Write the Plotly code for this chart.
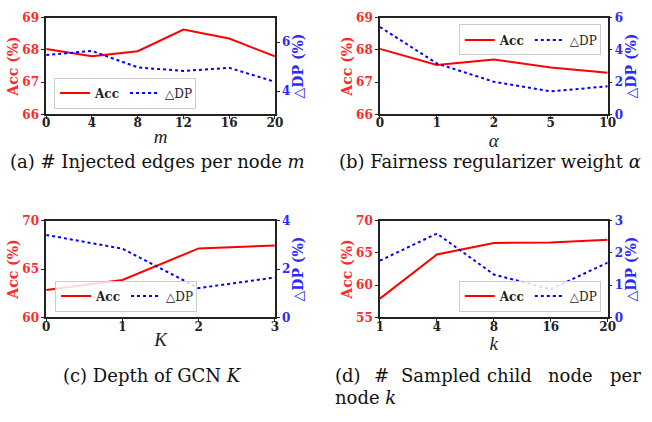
import plotly.graph_objects as go

# ---- data ----
m_vals = [0, 4, 8, 12, 16, 20]
m_acc = [68.03, 67.80, 67.96, 68.63, 68.35, 67.80]
m_dp = [5.47, 5.64, 4.97, 4.82, 4.95, 4.38]

alpha_vals = ["0", "1", "2", "5", "10"]
alpha_acc = [68.03, 67.53, 67.70, 67.45, 67.29]
alpha_dp = [5.42, 3.16, 2.02, 1.42, 1.74]

K_vals = [0, 1, 2, 3]
K_acc = [62.83, 63.87, 67.13, 67.43]
K_dp = [3.41, 2.84, 1.21, 1.65]

k_vals = ["1", "4", "8", "16", "20"]
k_acc = [57.9, 64.75, 66.55, 66.6, 67.05]
k_dp = [1.76, 2.60, 1.33, 0.87, 1.70]

captions = ["(a) # Injected edges per node <i>m</i>",
            "(b) Fairness regularizer weight <i>α</i>",
            "(c) Depth of GCN <i>K</i>"]
caption_d1 = ["(d)", "#", "Sampled", "child", "node", "per"]
caption_d2 = "node <i>k</i>"

W, H = 652, 422
RED = "#ff0000"
BLUE = "#0000ff"
RED_T = "#ff2a2a"
BLUE_T = "#2a2aff"
TICKF = "DejaVu Serif"

def px(x):
    return x / W

def py(y):
    return 1 - y / H

xdom = [[px(43), px(276)], [px(383), px(615)]]
ydom = [[py(111), py(11)], [py(321), py(221)]]

fig = go.Figure()

panels = [
    dict(x=m_vals, acc=m_acc, dp=m_dp, xd=xdom[0], yd=ydom[0], xr=[0, 20], xt=m_vals,
         ar=[66, 69], at=[66, 67, 68, 69], dr=[3.05, 7.0], dt=[4, 6], title="<i>m</i>",
         leg=dict(x=px(51), y=py(105), xanchor="left", yanchor="bottom"), cat=False),
    dict(x=alpha_vals, acc=alpha_acc, dp=alpha_dp, xd=xdom[1], yd=ydom[0], xr=[0, 4], xt=None,
         ar=[66, 69], at=[66, 67, 68, 69], dr=[0, 6], dt=[0, 2, 4, 6], title="<i>α</i>",
         leg=dict(x=px(608), y=py(18), xanchor="right", yanchor="top"), cat=True),
    dict(x=K_vals, acc=K_acc, dp=K_dp, xd=xdom[0], yd=ydom[1], xr=[0, 3], xt=K_vals,
         ar=[60, 70], at=[60, 65, 70], dr=[0, 4], dt=[0, 2, 4], title="<i>K</i>",
         leg=dict(x=px(52), y=py(315), xanchor="left", yanchor="bottom"), cat=False),
    dict(x=k_vals, acc=k_acc, dp=k_dp, xd=xdom[1], yd=ydom[1], xr=[0, 4], xt=None,
         ar=[55, 70], at=[55, 60, 65, 70], dr=[0, 3], dt=[0, 1, 2, 3], title="<i>k</i>",
         leg=dict(x=px(608), y=py(315), xanchor="right", yanchor="bottom"), cat=True),
]

layout = {}
for i, p in enumerate(panels):
    n = i + 1
    xa = "x" if n == 1 else f"x{n}"
    yl_idx = 2 * i + 1
    yr_idx = 2 * i + 2
    yl = "y" if yl_idx == 1 else f"y{yl_idx}"
    yr = f"y{yr_idx}"
    leg = "legend" if n == 1 else f"legend{n}"

    fig.add_trace(go.Scatter(x=p["x"], y=p["acc"], mode="lines", name="<b>Acc</b>",
                             line=dict(color=RED, width=2), xaxis=xa, yaxis=yl, legend=leg))
    fig.add_trace(go.Scatter(x=p["x"], y=p["dp"], mode="lines", name="△DP",
                             line=dict(color=BLUE, width=2, dash="dot"), xaxis=xa, yaxis=yr, legend=leg))

    xkey = "xaxis" if n == 1 else f"xaxis{n}"
    xcfg = dict(domain=p["xd"], anchor=yl, range=p["xr"], showline=True, linecolor="#222",
                linewidth=1.5, mirror=True, ticks="outside", ticklen=3, tickcolor="#222",
                showgrid=False, zeroline=False, ticklabelstandoff=-6,
                tickfont=dict(family=TICKF, size=12, color="#222", weight="bold"),
                title=dict(text=p["title"], font=dict(family="Liberation Serif", size=19, color="#222"),
                           standoff=0))
    if p["cat"]:
        xcfg["type"] = "category"
    else:
        xcfg["tickvals"] = p["xt"]
    layout[xkey] = xcfg

    ylkey = "yaxis" if yl_idx == 1 else f"yaxis{yl_idx}"
    layout[ylkey] = dict(domain=p["yd"], anchor=xa, range=p["ar"], tickvals=p["at"],
                         showline=True, linecolor="#222", linewidth=1.5, ticks="outside",
                         ticklen=3, tickcolor="#222", showgrid=False, zeroline=False,
                         tickfont=dict(family=TICKF, size=12, color=RED_T, weight="bold"),
                         title=dict(text="Acc (%)", font=dict(family=TICKF, size=14, color=RED_T, weight="bold"),
                                    standoff=0))
    yrkey = f"yaxis{yr_idx}"
    layout[yrkey] = dict(domain=p["yd"], anchor=xa, overlaying=yl, side="right", range=p["dr"],
                         tickvals=p["dt"], showline=True, linecolor="#222", linewidth=1.5,
                         ticks="outside", ticklen=3, tickcolor="#222", showgrid=False, zeroline=False,
                         tickfont=dict(family=TICKF, size=12, color=BLUE_T, weight="bold"),
                         title=dict(text="△DP (%)", font=dict(family=TICKF, size=14, color=BLUE_T, weight="bold"),
                                    standoff=3))
    legkey = "legend" if n == 1 else f"legend{n}"
    layout[legkey] = dict(orientation="h", bordercolor="#cccccc", borderwidth=1,
                          bgcolor="rgba(255,255,255,0.85)",
                          font=dict(family=TICKF, size=12, color="#222"),
                          itemwidth=30, entrywidth=25, tracegroupgap=0, **p["leg"])

annos = []
cap_font = dict(family="DejaVu Serif", size=18, color="#111")
annos.append(dict(text=captions[0], x=px(4), y=py(160), xref="paper", yref="paper",
                  xanchor="left", yanchor="middle", showarrow=False, font=cap_font))
annos.append(dict(text=captions[1], x=px(339), y=py(160), xref="paper", yref="paper",
                  xanchor="left", yanchor="middle", showarrow=False, font=cap_font))
annos.append(dict(text=captions[2], x=px(58), y=py(381), xref="paper", yref="paper",
                  xanchor="left", yanchor="middle", showarrow=False, font=cap_font))
d_pos = [335, 375, 402, 490, 552, 615]
for word, xp in zip(caption_d1, d_pos):
    annos.append(dict(text=word, x=px(xp), y=py(381), xref="paper", yref="paper",
                      xanchor="left", yanchor="middle", showarrow=False, font=cap_font))
annos.append(dict(text=caption_d2, x=px(335), y=py(404), xref="paper", yref="paper",
                  xanchor="left", yanchor="middle", showarrow=False, font=cap_font))

fig.update_layout(width=W, height=H, margin=dict(l=0, r=0, t=0, b=0),
                  paper_bgcolor="white", plot_bgcolor="white", annotations=annos,
                  **layout)

fig.write_html("out.html", config={"displayModeBar": False},
               post_script="document.body.style.margin='0';")
